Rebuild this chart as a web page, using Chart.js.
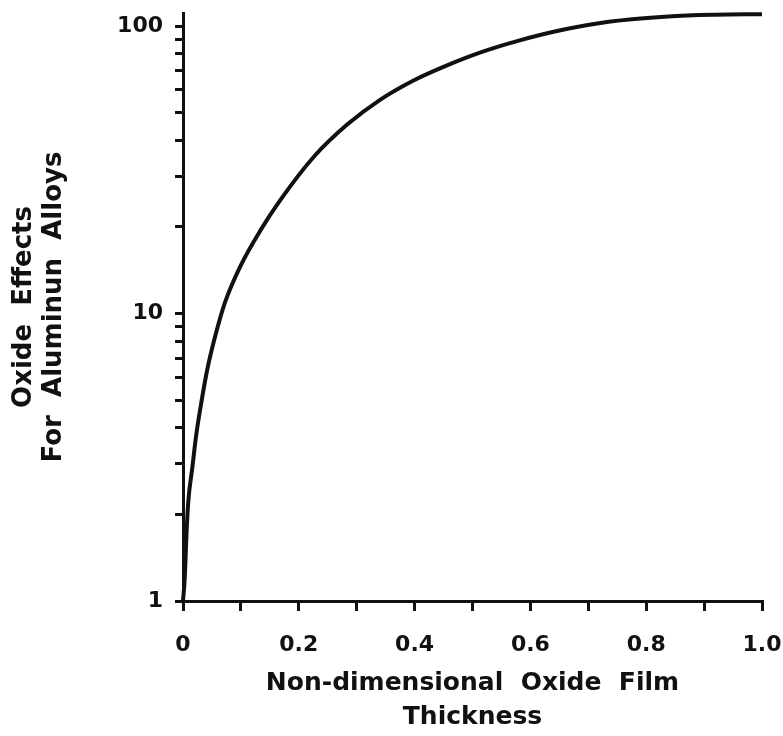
<!DOCTYPE html>
<html>
<head>
<meta charset="utf-8">
<script src="https://cdn.jsdelivr.net/npm/chart.js@4.4.0/dist/chart.umd.min.js"></script>
<style>
  html, body { margin: 0; padding: 0; background: #fff; }
</style>
</head>
<body>
<canvas id="chart" width="783" height="736"></canvas>
<script>
// values
const thickness = [0, 0.003, 0.006, 0.009, 0.016, 0.023, 0.032, 0.042, 0.056, 0.073, 0.099, 0.134, 0.168, 0.226, 0.284, 0.341, 0.399, 0.456, 0.514, 0.580, 0.650, 0.735, 0.838, 0.920, 1.0];
const effects = [1, 1.2, 1.7, 2.2, 2.9, 3.8, 4.95, 6.4, 8.4, 11.0, 14.6, 19.5, 24.8, 35.1, 45.5, 55.5, 64.8, 73, 81, 89, 96.5, 103.5, 108, 109.5, 110];

const xTicks = [0, 0.1, 0.2, 0.3, 0.4, 0.5, 0.6, 0.7, 0.8, 0.9, 1.0];
const xLabels = { 0: "0", 0.2: "0.2", 0.4: "0.4", 0.6: "0.6", 0.8: "0.8", 1: "1.0" };
const yTicks = [1, 2, 3, 4, 5, 6, 7, 8, 9, 10, 20, 30, 40, 50, 60, 70, 80, 90, 100];
const yLabels = { 1: "1", 10: "10", 100: "100" };

const ink = "#111";
const labelFont = { family: "'DejaVu Sans', sans-serif", size: 22, weight: "bold" };
const titleFont = { family: "'DejaVu Sans', sans-serif", size: 25, weight: "bold" };

const ctx = document.getElementById("chart").getContext("2d");
new Chart(ctx, {
  type: "line",
  data: {
    datasets: [{
      data: thickness.map((x, i) => ({ x: x, y: effects[i] })),
      borderColor: ink,
      borderWidth: 4,
      pointRadius: 0,
      cubicInterpolationMode: "monotone",
      clip: false
    }]
  },
  options: {
    responsive: false,
    animation: false,
    layout: { padding: { top: 13, right: 21, left: 0, bottom: 0 } },
    plugins: { legend: { display: false }, tooltip: { enabled: false } },
    scales: {
      x: {
        type: "linear",
        min: 0,
        max: 1,
        afterFit: (s) => { s.height = 135; s.paddingLeft = 0; s.paddingRight = 0; },
        afterBuildTicks: (s) => { s.ticks = xTicks.map(v => ({ value: v })); },
        border: { color: ink, width: 3 },
        grid: { drawOnChartArea: false, color: ink, lineWidth: 3, tickLength: 10 },
        ticks: {
          color: ink,
          font: labelFont,
          padding: 21,
          maxRotation: 0,
          autoSkip: false,
          callback: (v) => xLabels[Math.round(v * 10) / 10] || ""
        },
        title: {
          display: true,
          text: ["Non-dimensional  Oxide  Film", "Thickness"],
          color: ink,
          font: Object.assign({ lineHeight: 1.36 }, titleFont),
          padding: { top: 0, bottom: 2 }
        }
      },
      y: {
        type: "logarithmic",
        min: 1,
        max: 111,
        afterFit: (s) => { s.width = 183; s.paddingTop = 0; s.paddingBottom = 0; },
        afterBuildTicks: (s) => { s.ticks = yTicks.map(v => ({ value: v })); },
        border: { color: ink, width: 3 },
        grid: { drawOnChartArea: false, color: ink, lineWidth: 3, tickLength: 8 },
        ticks: {
          color: ink,
          font: labelFont,
          padding: 12,
          autoSkip: false,
          callback: (v) => yLabels[v] || ""
        },
        title: {
          display: true,
          text: ["Oxide  Effects", "For  Aluminun  Alloys"],
          color: ink,
          font: Object.assign({ lineHeight: 1.15 }, titleFont, { size: 26 }),
          padding: { top: 9, bottom: 0 }
        }
      }
    }
  }
});
</script>
</body>
</html>
